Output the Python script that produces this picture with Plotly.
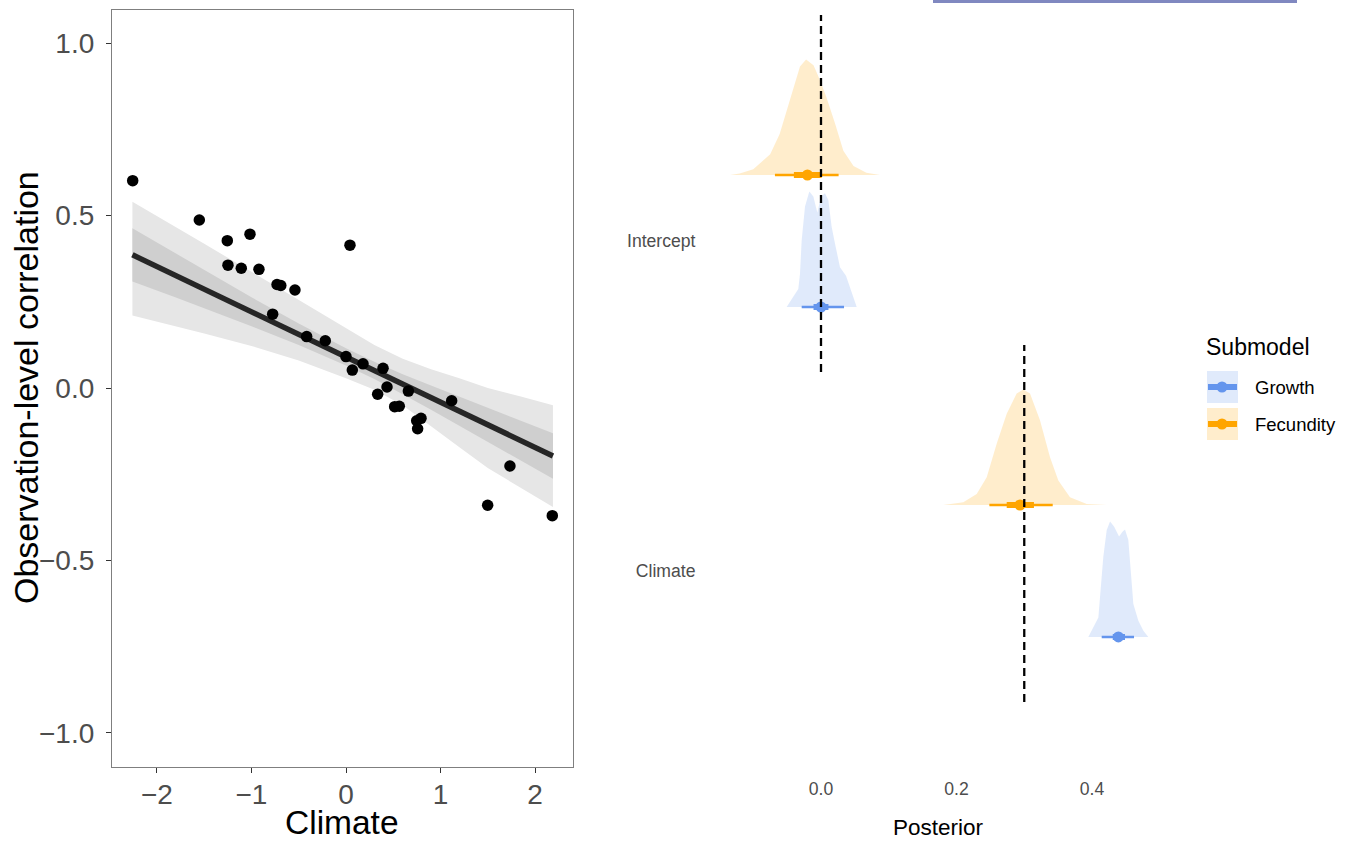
import plotly.graph_objects as go

# ---------------- data: left panel ----------------
climate = [-2.257, -1.552, -1.256, -1.016, 0.042, -1.249, -1.108, -0.921, -0.73, -0.69,
           -0.540, -0.776, -0.416, -0.219, 0.0, 0.180, 0.067, 0.392, 0.434, 0.335,
           0.660, 0.515, 0.564, 0.748, 0.794, 0.758, 1.118, 1.735, 1.499, 2.183]
correlation = [0.601, 0.487, 0.427, 0.446, 0.414, 0.356, 0.347, 0.344, 0.300, 0.297,
               0.284, 0.214, 0.149, 0.137, 0.091, 0.070, 0.052, 0.057, 0.003, -0.018,
               -0.009, -0.054, -0.053, -0.095, -0.088, -0.118, -0.037, -0.226, -0.340, -0.370]

ribbon_x = [-2.26, -1.8, -1.5, -1.0, -0.5, 0.0, 0.3, 0.6, 0.9, 1.2, 1.5, 1.85, 2.19]
fit_y = [0.386, 0.326, 0.287, 0.221, 0.156, 0.090, 0.051, 0.011, -0.028, -0.067, -0.107, -0.152, -0.197]
inner_hi = [0.463, 0.390, 0.342, 0.263, 0.187, 0.115, 0.076, 0.040, 0.007, -0.025, -0.057, -0.094, -0.131]
inner_lo = [0.309, 0.262, 0.232, 0.179, 0.125, 0.065, 0.026, -0.018, -0.063, -0.109, -0.157, -0.210, -0.263]
outer_hi = [0.540, 0.467, 0.418, 0.337, 0.256, 0.175, 0.125, 0.085, 0.054, 0.028, 0.0, -0.025, -0.050]
outer_lo = [0.210, 0.178, 0.158, 0.122, 0.080, 0.028, -0.005, -0.050, -0.110, -0.172, -0.232, -0.290, -0.345]

# ---------------- data: right panel ----------------
params = ["Climate", "Intercept"]      # bottom to top
submodels = ["Growth", "Fecundity"]

dens_x = {
    ("Intercept", "Fecundity"): [-0.134, -0.120, -0.100, -0.075, -0.061, -0.046, -0.031, -0.022,
                                 -0.011, -0.0015, 0.008, 0.021, 0.033, 0.048, 0.067, 0.087],
    ("Intercept", "Growth"): [-0.0507, -0.0433, -0.0335, -0.031, -0.0285, -0.0236, -0.0172, -0.0113,
                              -0.0054, 0.0, 0.0059, 0.0108, 0.0157, 0.0207, 0.028, 0.0369, 0.0428, 0.0527],
    ("Climate", "Fecundity"): [0.1806, 0.210, 0.2298, 0.2446, 0.2593, 0.2741, 0.2888, 0.2987,
                               0.3085, 0.3232, 0.338, 0.3503, 0.3675, 0.3922, 0.4217],
    ("Climate", "Growth"): [0.3946, 0.4020, 0.4094, 0.4118, 0.4167, 0.4217, 0.4266, 0.4325, 0.4399,
                            0.4453, 0.4487, 0.4536, 0.4571, 0.4610, 0.4684, 0.4758, 0.4831],
}
dens_h = {
    ("Intercept", "Fecundity"): [0, 0.012, 0.049, 0.180, 0.355, 0.645, 0.94, 1.0,
                                 0.95, 0.82, 0.674, 0.442, 0.209, 0.078, 0.020, 0],
    ("Intercept", "Growth"): [0, 0.067, 0.155, 0.286, 0.577, 0.87, 1.0, 0.956,
                              0.816, 0.956, 0.985, 0.927, 0.694, 0.548, 0.344, 0.271, 0.169, 0],
    ("Climate", "Fecundity"): [0, 0.023, 0.096, 0.241, 0.530, 0.791, 0.965, 1.0,
                               0.965, 0.733, 0.414, 0.212, 0.067, 0.009, 0],
    ("Climate", "Growth"): [0, 0.082, 0.169, 0.344, 0.694, 0.927, 1.0, 0.956, 0.869,
                            0.913, 0.93, 0.840, 0.577, 0.286, 0.140, 0.053, 0],
}
# point estimate, 66% and 95% intervals
point_est = {("Intercept", "Fecundity"): -0.020, ("Intercept", "Growth"): 0.0,
             ("Climate", "Fecundity"): 0.2937, ("Climate", "Growth"): 0.4389}
thick_int = {("Intercept", "Fecundity"): (-0.040, 0.001), ("Intercept", "Growth"): (-0.011, 0.011),
             ("Climate", "Fecundity"): (0.2741, 0.3143), ("Climate", "Growth"): (0.4306, 0.4487)}
thin_int = {("Intercept", "Fecundity"): (-0.068, 0.026), ("Intercept", "Growth"): (-0.0285, 0.034),
            ("Climate", "Fecundity"): (0.2485, 0.342), ("Climate", "Growth"): (0.4143, 0.462)}
true_vals = {"Intercept": 0.0, "Climate": 0.3}
xticks_right = [0.0, 0.2, 0.4]
xticks_left = [-2, -1, 0, 1, 2]
yticks_left = [-1.0, -0.5, 0.0, 0.5, 1.0]

# ---------------- styles ----------------
line_col = {"Growth": "#6495ED", "Fecundity": "#FFA500"}
fill_col = {"Growth": "rgba(100,149,237,0.2)", "Fecundity": "rgba(255,165,0,0.2)"}
offset = {"Growth": -0.2, "Fecundity": 0.2}
slab_scale = 0.35
cat_pos = {p: i + 1 for i, p in enumerate(params)}

W, H = 1348, 842
ML, MR, MT, MB = 0, 0, 10, 75
PH = H - MT - MB


def px(x):
    return x / W


def py(y):
    return (H - MB - y) / PH


fig = go.Figure()

# left panel ribbons
fig.add_trace(go.Scatter(x=ribbon_x + ribbon_x[::-1], y=outer_hi + outer_lo[::-1], fill="toself",
                         fillcolor="#e6e6e6", line=dict(width=0), mode="lines",
                         hoverinfo="skip", showlegend=False, xaxis="x", yaxis="y"))
fig.add_trace(go.Scatter(x=ribbon_x + ribbon_x[::-1], y=inner_hi + inner_lo[::-1], fill="toself",
                         fillcolor="#cfcfcf", line=dict(width=0), mode="lines",
                         hoverinfo="skip", showlegend=False, xaxis="x", yaxis="y"))
fig.add_trace(go.Scatter(x=ribbon_x, y=fit_y, mode="lines", line=dict(color="#262626", width=5.5),
                         showlegend=False, xaxis="x", yaxis="y"))
fig.add_trace(go.Scatter(x=climate, y=correlation, mode="markers",
                         marker=dict(color="black", size=11.5, line=dict(width=0)),
                         showlegend=False, xaxis="x", yaxis="y"))

# right panel slabs
for p in ["Intercept", "Climate"]:
    for s in submodels:
        key = (p, s)
        base = cat_pos[p] + offset[s]
        xs = dens_x[key]
        ys = [base + h * slab_scale for h in dens_h[key]]
        fig.add_trace(go.Scatter(x=xs + xs[::-1], y=ys + [base] * len(xs), fill="toself",
                                 fillcolor=fill_col[s], line=dict(width=0), mode="lines",
                                 hoverinfo="skip", showlegend=False, xaxis="x2", yaxis="y2"))
for p in ["Intercept", "Climate"]:
    for s in submodels:
        key = (p, s)
        base = cat_pos[p] + offset[s]
        fig.add_trace(go.Scatter(x=list(thin_int[key]), y=[base, base], mode="lines",
                                 line=dict(color=line_col[s], width=2.6), showlegend=False,
                                 xaxis="x2", yaxis="y2"))
        fig.add_trace(go.Scatter(x=list(thick_int[key]), y=[base, base], mode="lines",
                                 line=dict(color=line_col[s], width=6), showlegend=False,
                                 xaxis="x2", yaxis="y2"))
        fig.add_trace(go.Scatter(x=[point_est[key]], y=[base], mode="markers",
                                 marker=dict(color=line_col[s], size=11, line=dict(width=0)),
                                 showlegend=False, xaxis="x2", yaxis="y2"))
# reference lines
for p in ["Intercept", "Climate"]:
    fig.add_trace(go.Scatter(x=[true_vals[p], true_vals[p]],
                             y=[cat_pos[p] - 0.397, cat_pos[p] + 0.685], mode="lines",
                             line=dict(color="black", width=2.3, dash="8px,5px"),
                             showlegend=False, xaxis="x2", yaxis="y2"))

font = "Liberation Sans, Arial, sans-serif"
fig.update_layout(
    width=W, height=H, margin=dict(l=ML, r=MR, t=MT, b=MB),
    paper_bgcolor="white", plot_bgcolor="white", showlegend=False,
    font=dict(family=font),
    xaxis=dict(domain=[px(112), px(573)], range=[-2.476, 2.402], tickvals=xticks_left,
               ticktext=["\u22122", "\u22121", "0", "1", "2"],
               showgrid=False, zeroline=False, showline=True, mirror=True, linecolor="#7f7f7f",
               linewidth=1.2, ticks="outside", ticklen=5, tickwidth=1.3, tickcolor="#333333",
               ticklabelstandoff=-3, tickfont=dict(size=28, color="#4d4d4d")),
    yaxis=dict(domain=[0, 1], range=[-1.0986, 1.0957], tickvals=yticks_left,
               ticktext=["\u22121.0", "\u22120.5", "0.0", "0.5", "1.0"],
               showgrid=False, zeroline=False, showline=True, mirror=True, linecolor="#7f7f7f",
               linewidth=1.2, ticks="outside", ticklen=5, tickwidth=1.3, tickcolor="#333333",
               ticklabelstandoff=6, tickfont=dict(size=28, color="#4d4d4d")),
    xaxis2=dict(domain=[px(705), px(1170)], range=[-0.1712, 0.5151], anchor="y2",
                tickvals=xticks_right, ticktext=["0.0", "0.2", "0.4"],
                showgrid=False, zeroline=False, showline=False, ticks="outside", ticklen=6,
                tickcolor="rgba(0,0,0,0)", tickfont=dict(size=17.6, color="#4d4d4d")),
    yaxis2=dict(domain=[0, 1], range=[0.406, 2.7], anchor="x2",
                tickvals=[cat_pos[p] for p in params], ticktext=params,
                showgrid=False, zeroline=False, showline=False, ticks="outside", ticklen=5,
                tickcolor="rgba(0,0,0,0)", tickfont=dict(size=17.6, color="#4d4d4d")),
)

shapes = [dict(type="rect", xref="paper", yref="paper", x0=px(933), x1=px(1297), y0=py(3), y1=py(0),
               fillcolor="#8088c0", line=dict(width=0))]
annotations = [
    dict(text="Climate", x=px(342), y=py(842), xref="paper", yref="paper", showarrow=False,
         font=dict(size=33.5, color="black"), xanchor="center", yanchor="bottom", borderpad=0),
    dict(text="Observation-level correlation", x=px(26), y=py(388), xref="paper", yref="paper",
         showarrow=False, textangle=-90, font=dict(size=34, color="black"),
         xanchor="center", yanchor="middle"),
    dict(text="Posterior", x=px(938), y=py(827), xref="paper", yref="paper", showarrow=False,
         font=dict(size=22.5, color="black"), xanchor="center", yanchor="middle"),
    dict(text="Submodel", x=px(1204), y=py(347), xref="paper", yref="paper", showarrow=False,
         font=dict(size=23, color="black"), xanchor="left", yanchor="middle"),
]
# manual legend
for i, s in enumerate(submodels):
    yc = 387 + 37 * i
    shapes.append(dict(type="rect", xref="paper", yref="paper", x0=px(1207), x1=px(1238),
                       y0=py(yc + 16), y1=py(yc - 16), fillcolor=fill_col[s], line=dict(width=0)))
    shapes.append(dict(type="line", xref="paper", yref="paper", x0=px(1208), x1=px(1237),
                       y0=py(yc), y1=py(yc), line=dict(color=line_col[s], width=6)))
    shapes.append(dict(type="circle", xref="paper", yref="paper", x0=px(1216.5), x1=px(1227.5),
                       y0=py(yc + 5.5), y1=py(yc - 5.5), fillcolor=line_col[s], line=dict(width=0)))
    annotations.append(dict(text=s, x=px(1253), y=py(yc), xref="paper", yref="paper",
                            showarrow=False, font=dict(size=18.5, color="black"),
                            xanchor="left", yanchor="middle"))
fig.update_layout(shapes=shapes, annotations=annotations)

fig.write_html("out.html", config={"displayModeBar": False},
               post_script="document.body.style.margin='0px';document.body.style.overflow='hidden';")
